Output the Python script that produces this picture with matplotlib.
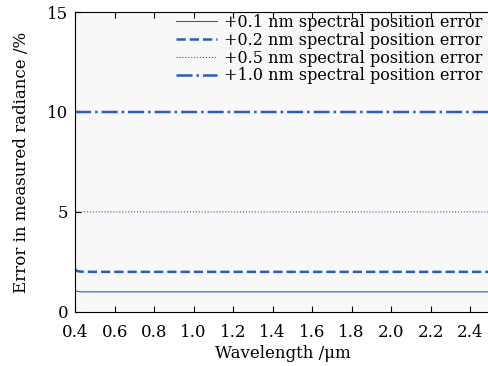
import numpy as np
import matplotlib
matplotlib.use("Agg")
import matplotlib.pyplot as plt

plt.rcParams['font.family'] = ['DejaVu Serif']
plt.rcParams['mathtext.fontset'] = 'dejavuserif'

# wavelength samples (um) and errors (%) per spectral shift
wl = np.array([0.40, 0.41, 0.43, 0.50, 1.00, 1.50, 2.00, 2.50])
err_01 = np.array([1.08, 1.02, 1.00, 1.00, 1.00, 1.00, 1.00, 1.00])
err_02 = np.array([2.12, 2.04, 2.01, 2.00, 2.00, 2.00, 2.00, 2.00])
err_05 = np.array([5.02, 5.00, 5.00, 5.00, 5.00, 5.00, 5.00, 5.00])
err_10 = np.array([10.02, 10.00, 10.00, 10.00, 10.00, 10.00, 10.00, 10.00])
labels = ['+0.1 nm spectral position error', '+0.2 nm spectral position error',
          '+0.5 nm spectral position error', '+1.0 nm spectral position error']

c = '#2c5bbd'
fig = plt.figure(figsize=(4.88, 3.66), dpi=100)
ax = fig.add_axes([0.154, 0.148, 0.85, 0.819])
ax.set_facecolor('#f8f8f8')
ax.plot(wl, err_01, '-', color=c, lw=0.8, label=labels[0])
ax.plot(wl, err_02, '--', color=c, lw=1.8, label=labels[1])
ax.plot(wl, err_05, ':', color=c, lw=0.8, label=labels[2])
ax.plot(wl, err_10, '-.', color=c, lw=1.8, label=labels[3])

ax.set_xlim(0.4, 2.5)
ax.set_ylim(0, 15)
ax.set_xticks(np.arange(0.4, 2.41, 0.2))
ax.set_xticklabels(['%.1f' % v for v in np.arange(0.4, 2.41, 0.2)])
ax.set_yticks([0, 5, 10, 15])
ax.tick_params(direction='in', top=True, right=False, labelsize=12, length=4)
ax.tick_params(axis='x', pad=9)
ax.tick_params(axis='y', pad=5)
ax.spines['right'].set_visible(False)
ax.set_xlabel('Wavelength /\u03bcm', fontsize=12, labelpad=3)
ax.set_ylabel('Error in measured radiance /%', fontsize=12, labelpad=12)
ax.legend(loc='upper right', bbox_to_anchor=(1.0, 1.02), frameon=False,
          fontsize=11.5, handlelength=2.6, labelspacing=0.05,
          borderaxespad=0.1, handletextpad=0.4)

fig.savefig('out.png', dpi=100)
